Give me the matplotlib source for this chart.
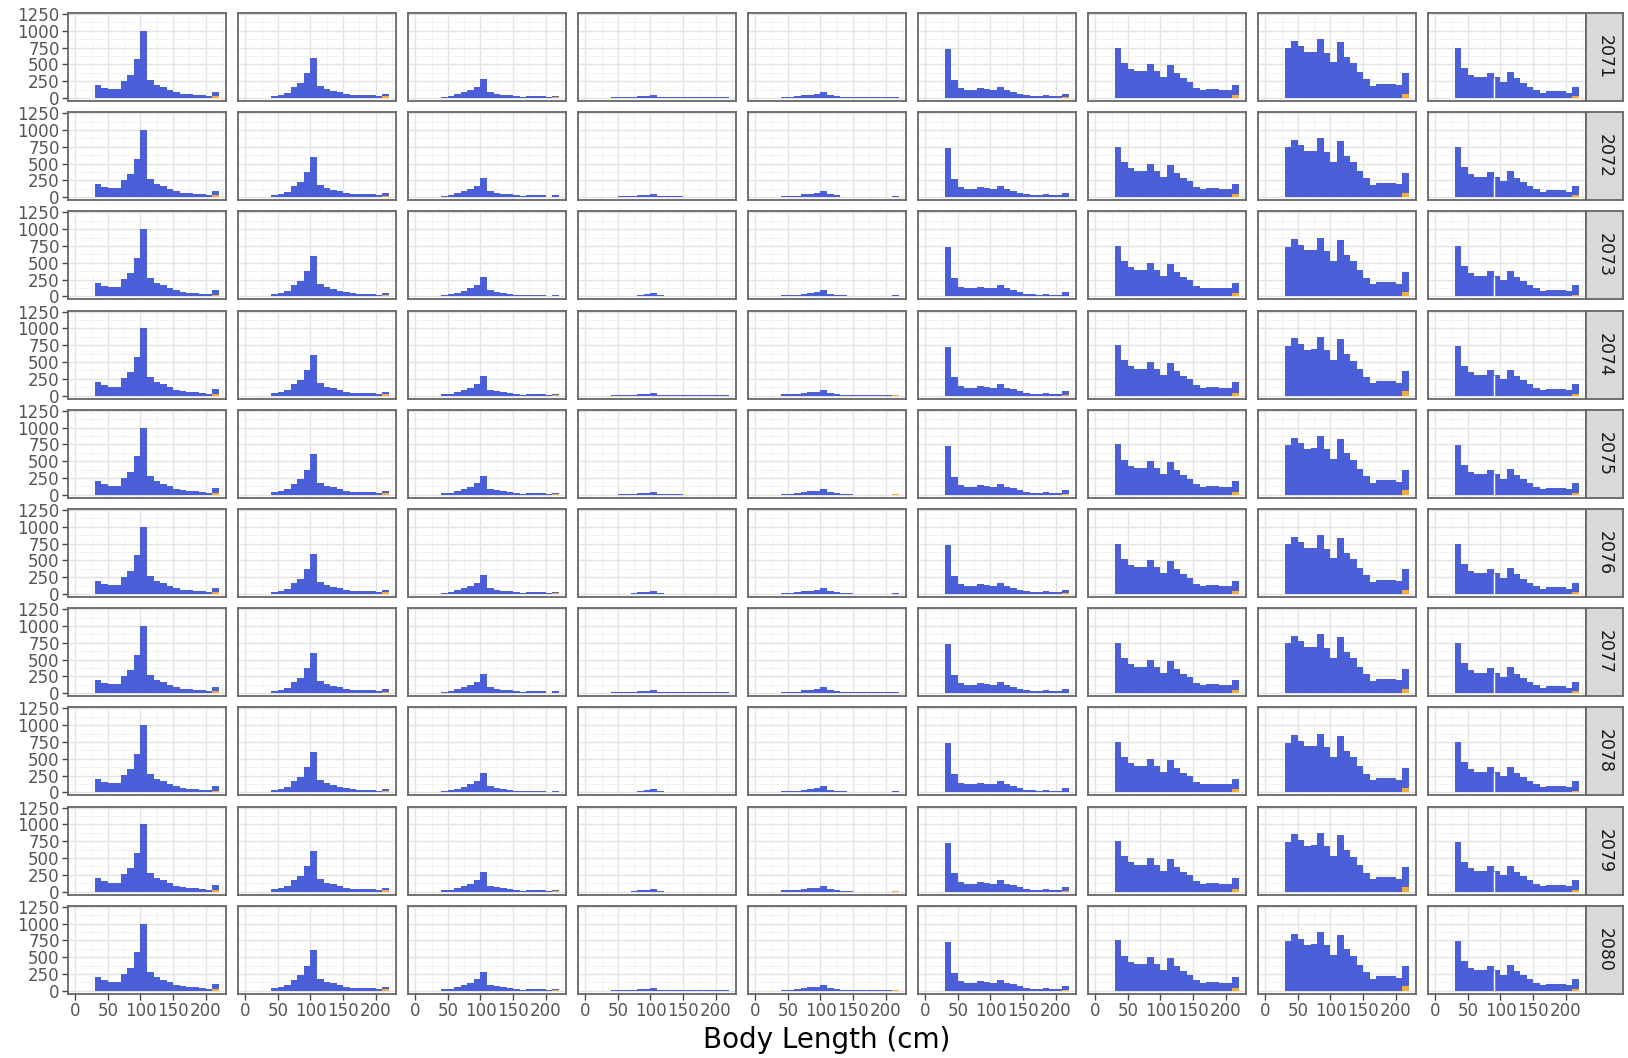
import numpy as np
import matplotlib.pyplot as plt

# facet rows (years) and columns
years = [2071, 2072, 2073, 2074, 2075, 2076, 2077, 2078, 2079, 2080]
bin_width = 10
col_start = [30, 40, 40, 40, 40, 30, 30, 30, 30]

# total counts per 10 cm bin
col1 = [200, 155, 135, 135, 255, 345, 575, 1000, 275, 200, 165, 125, 90, 65, 55, 50, 40, 30, 95]
col2 = [35, 50, 80, 165, 230, 375, 600, 180, 135, 110, 85, 60, 45, 40, 40, 40, 25, 55]
col3 = [20, 30, 55, 85, 120, 170, 285, 90, 65, 50, 40, 25, 15, 25, 25, 25, 10, 25]
col4 = [12, 12, 12, 12, 25, 30, 45, 14, 12, 12, 12, 12, 12, 12, 12, 12, 12, 12]
col5 = [18, 18, 22, 40, 50, 60, 90, 40, 25, 15, 12, 12, 12, 12, 12, 12, 12, 14]
col6 = [730, 270, 145, 120, 120, 145, 130, 120, 165, 120, 95, 65, 40, 28, 25, 40, 25, 25, 66]
col7 = [750, 525, 435, 395, 395, 500, 395, 305, 485, 365, 290, 240, 155, 120, 130, 130, 120, 120, 200]
col8 = [740, 850, 770, 685, 690, 875, 675, 530, 835, 615, 520, 390, 280, 180, 215, 215, 215, 190, 365]
col9 = [745, 445, 345, 305, 305, 375, 305, 240, 385, 290, 230, 170, 120, 80, 100, 100, 100, 80, 170]
col_counts = [col1, col2, col3, col4, col5, col6, col7, col8, col9]

# orange part stacked at the bottom of the last bin
col_orange = [25, 22, 10, 0, 5, 10, 45, 65, 25]

# column 4 covers a different length range in each year
col4_lo = [40, 50, 70, 40, 50, 70, 40, 50, 70, 40]
col4_hi = [220, 150, 120, 220, 150, 120, 220, 140, 120, 220]

# column 5: upper end of the main run per year (last bin always present)
col5_hi = [220, 130, 150, 220, 150, 150, 220, 200, 150, 220]
col5_skip = [0, 0, 0, 0, 0, 0, 0, 170, 0, 0]

# white seam in column 9 after this bin
col9_seam = 6

blue = '#4A5FD8'
orange = '#F2AE3C'

W, H = 1628, 1058
fig = plt.figure(figsize=(W / 100, H / 100), dpi=100)

left_px, pitch_x, w_px = 68, 170, 158
top_px, pitch_y, h_px = 13, 99.2, 88
strip_w = 37

for r, year in enumerate(years):
    y0 = top_px + r * pitch_y
    for c in range(9):
        x0 = left_px + c * pitch_x
        ax = fig.add_axes([x0 / W, 1 - (y0 + h_px) / H, w_px / W, h_px / H])
        counts = np.array(col_counts[c], dtype=float)
        edges = col_start[c] + bin_width * np.arange(len(counts))
        if c == 3:
            keep = (edges >= col4_lo[r]) & (edges < col4_hi[r])
            counts = np.where(keep, counts, 0)
        if c == 4:
            keep = ((edges < col5_hi[r]) | (edges >= 210)) & (edges != col5_skip[r])
            counts = np.where(keep, counts, 0)
        org = np.zeros(len(counts))
        org[-1] = min(col_orange[c], counts[-1])
        ax.bar(edges, counts - org, width=bin_width, bottom=org, align='edge',
               color=blue, linewidth=0, zorder=3)
        ax.bar(edges, org, width=bin_width, align='edge',
               color=orange, linewidth=0, zorder=3)
        if c == 8:
            seam = edges[col9_seam]
            ax.vlines(seam, 0, min(counts[col9_seam - 1], counts[col9_seam]),
                      color='white', lw=1, zorder=4)

        ax.set_xlim(-11, 231)
        ax.set_ylim(-45, 1265)
        ax.set_xticks([0, 50, 100, 150, 200])
        ax.set_xticks([25, 75, 125, 175, 225], minor=True)
        ax.set_yticks([0, 250, 500, 750, 1000, 1250])
        ax.set_yticks([125, 375, 625, 875, 1125], minor=True)
        ax.grid(which='major', color='#e3e3e3', lw=1.0, zorder=0)
        ax.grid(which='minor', color='#f0f0f0', lw=0.6, zorder=0)
        ax.set_axisbelow(True)
        for s in ax.spines.values():
            s.set_color('#666666')
            s.set_linewidth(1.3)
        ax.tick_params(which='minor', length=0)
        ax.tick_params(which='major', length=4, width=1, color='#444444',
                       labelsize=12, labelcolor='#555555', pad=2)
        if c != 0:
            ax.tick_params(axis='y', length=0, labelleft=False)
        if r != len(years) - 1:
            ax.tick_params(axis='x', length=0, labelbottom=False)

    # facet strip
    sx = left_px + 8 * pitch_x + w_px
    sax = fig.add_axes([sx / W, 1 - (y0 + h_px) / H, strip_w / W, h_px / H])
    sax.set_facecolor('#d9d9d9')
    sax.set_xticks([])
    sax.set_yticks([])
    for s in sax.spines.values():
        s.set_color('#666666')
        s.set_linewidth(1.3)
    sax.text(0.5, 0.5, str(year), rotation=270, ha='center', va='center',
             fontsize=12.5, color='#1a1a1a', transform=sax.transAxes)

panel_mid = (left_px + (left_px + 8 * pitch_x + w_px)) / 2
fig.text(panel_mid / W, 1 - 1040 / H, 'Body Length (cm)', ha='center', va='center',
         fontsize=20, color='black')

fig.savefig('out.png', dpi=100)
